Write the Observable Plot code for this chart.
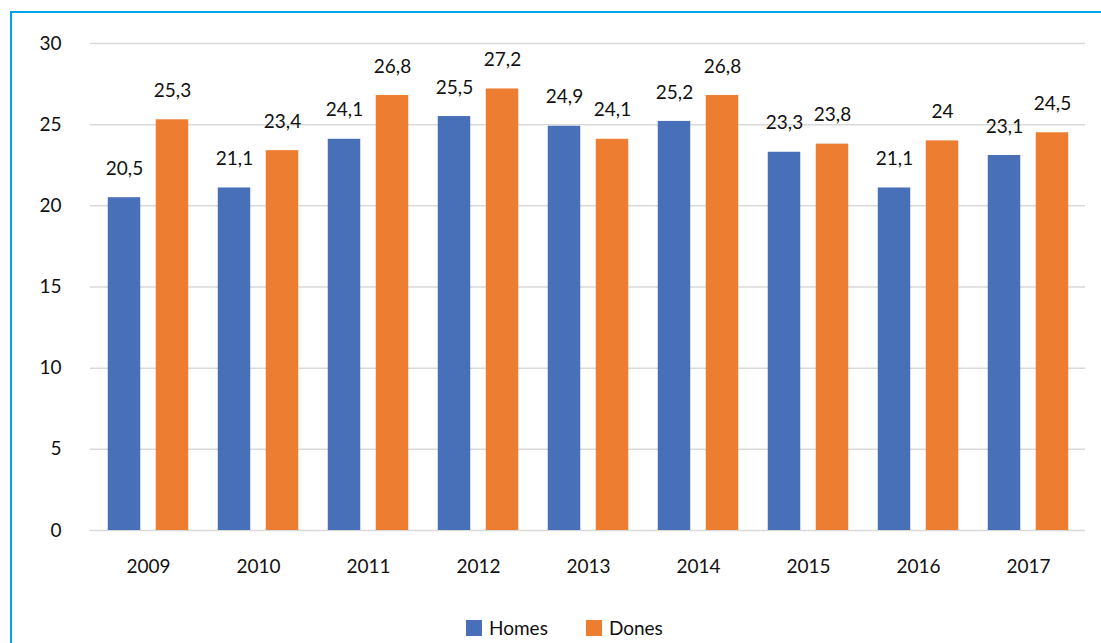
<!DOCTYPE html>
<html>
<head>
<meta charset="utf-8">
<script src="https://cdn.jsdelivr.net/npm/d3@7"></script>
<script src="https://cdn.jsdelivr.net/npm/@observablehq/plot@0.6"></script>
<style>
  html, body { margin: 0; padding: 0; background: #fff; overflow: hidden; width: 1101px; height: 643px; }
  #frame { position: absolute; left: 10px; top: 11px; width: 3000px; height: 3000px; border: 2px solid #00a2e8; z-index: 5; pointer-events: none; }
  #chart { position: absolute; left: 0; top: 0; }
  #legend { position: absolute; left: 466px; top: 616px; display: flex; align-items: center; font-family: Lato, "Open Sans", sans-serif; font-size: 19px; color: #111; }
  .item { display: flex; align-items: center; margin-right: 38px; }
  .sw { width: 16px; height: 16px; margin-right: 7px; }
</style>
</head>
<body>
<div id="frame"></div>
<div id="chart"></div>
<div id="legend"></div>
<script>
const years = ["2009", "2010", "2011", "2012", "2013", "2014", "2015", "2016", "2017"];
const homes = [20.5, 21.1, 24.1, 25.5, 24.9, 25.2, 23.3, 21.1, 23.1];
const dones = [25.3, 23.4, 26.8, 27.2, 24.1, 26.8, 23.8, 24, 24.5];
const seriesNames = ["Homes", "Dones"];
const seriesColors = ["#4870b8", "#ed7d31"];
const yTicks = [0, 5, 10, 15, 20, 25, 30];

const homesData = years.map((y, i) => ({year: y, series: seriesNames[0], value: homes[i]}));
const donesData = years.map((y, i) => ({year: y, series: seriesNames[1], value: dones[i]}));
const fmt = v => String(v).replace(".", ",");
const font = "Lato, 'Open Sans', sans-serif";

const plot = Plot.plot({
  width: 1101,
  height: 590,
  marginLeft: 90,
  marginRight: 16,
  marginTop: 43,
  marginBottom: 60,
  style: {fontFamily: font, color: "#111", background: "transparent"},
  x: {type: "band", domain: years, padding: 0},
  y: {domain: [0, 30]},
  marks: [
    Plot.ruleY(yTicks, {stroke: "#d9d9d9", strokeWidth: 1.5}),
    Plot.barY(homesData, {x: "year", y: "value", fill: seriesColors[0], insetLeft: 14.75, insetRight: 62.75}),
    Plot.barY(donesData, {x: "year", y: "value", fill: seriesColors[1], insetLeft: 62.75, insetRight: 14.75}),
    Plot.text(homesData, {x: "year", y: "value", text: d => fmt(d.value), dx: -24, dy: -29, fontSize: 19, fill: "#111"}),
    Plot.text(donesData, {x: "year", y: "value", text: d => fmt(d.value), dx: 24, dy: -29, fontSize: 19, fill: "#111"}),
    Plot.axisY({ticks: yTicks, tickSize: 0, tickPadding: 29, fontSize: 19, label: null}),
    Plot.axisX({tickSize: 0, tickPadding: 29, fontSize: 19, label: null})
  ]
});
document.getElementById("chart").appendChild(plot);

const legend = document.getElementById("legend");
seriesNames.forEach((name, i) => {
  const item = document.createElement("div");
  item.className = "item";
  const sw = document.createElement("div");
  sw.className = "sw";
  sw.style.background = seriesColors[i];
  const label = document.createElement("span");
  label.textContent = name;
  item.appendChild(sw);
  item.appendChild(label);
  legend.appendChild(item);
});
</script>
</body>
</html>
